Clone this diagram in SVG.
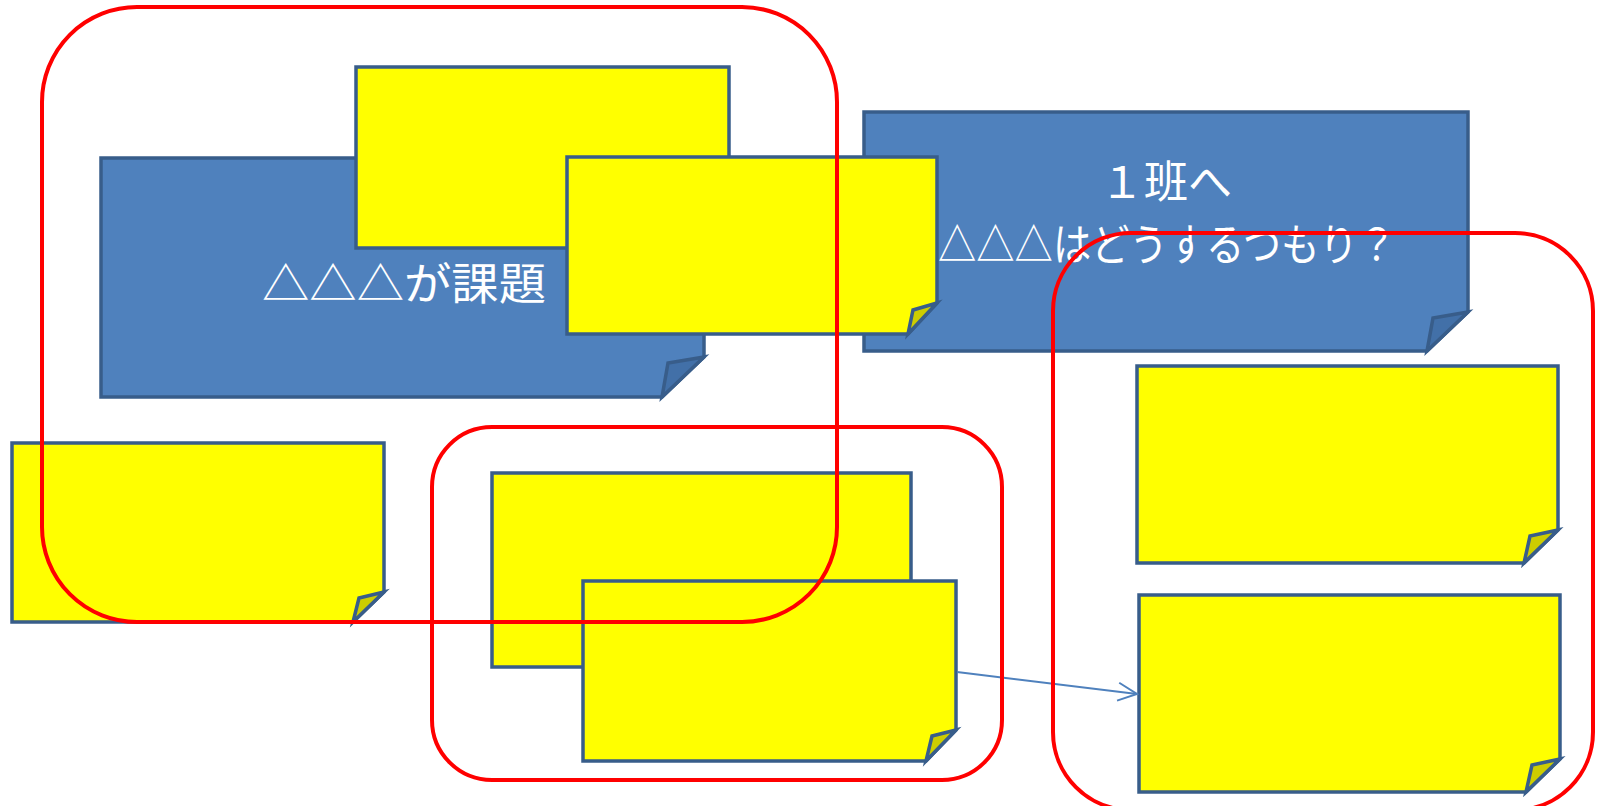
<svg xmlns="http://www.w3.org/2000/svg" width="1604" height="806" viewBox="0 0 1604 806">
  <defs>
    <style>
      .blue { fill: #4f81bd; stroke: #385d8a; stroke-width: 3.5; stroke-linejoin: miter; }
      .blueflap { fill: #4270a8; stroke: #385d8a; stroke-width: 3.5; }
      .yel { fill: #ffff00; stroke: #385d8a; stroke-width: 3.5; }
      .yelflap { fill: #cdcd00; stroke: #385d8a; stroke-width: 3.5; }
      .red { fill: none; stroke: #ff0000; stroke-width: 4; }
      .lbl { fill: #ffffff; font-family: "Noto Sans CJK JP", "Noto Sans", sans-serif; font-size: 44px; }
      .conn { stroke: #4f81bd; stroke-width: 2; fill: none; }
    </style>
    <marker id="arr" markerUnits="userSpaceOnUse" markerWidth="24" markerHeight="24" viewBox="0 0 24 24" refX="22" refY="12" orient="auto">
      <path d="M3 3 L22 12 L3 21" fill="none" stroke="#4f81bd" stroke-width="2"/>
    </marker>
  </defs>
  <rect width="1604" height="806" fill="#ffffff"/>

  <g id="note-b1">
    <path class="blue" d="M101 158 H704 V357 L662 397 H101 Z"/>
    <path class="blueflap" d="M704 357 L668 363 L662 397 Z"/>
    <text class="lbl" x="404" y="300" text-anchor="middle" textLength="284" lengthAdjust="spacingAndGlyphs">△△△が課題</text>
  </g>
  <g id="note-y1">
    <path class="yel" d="M356 67 H729 V218 L699 248 H356 Z"/>
  </g>
  <g id="note-b2">
    <path class="blue" d="M864 112 H1468 V312 L1427 351 H864 Z"/>
    <path class="blueflap" d="M1468 312 L1433 318 L1427 351 Z"/>
    <text class="lbl" x="1166" y="198" text-anchor="middle">１班へ</text>
    <text class="lbl" x="1167" y="261" text-anchor="middle" textLength="458" lengthAdjust="spacingAndGlyphs">△△△はどうするつもり？</text>
  </g>
  <g id="note-y2">
    <path class="yel" d="M567 157 H937 V303 L908 334 H567 Z"/>
    <path class="yelflap" d="M937 303 L913 310 L908 334 Z"/>
  </g>
  <g id="note-y3">
    <path class="yel" d="M12 443 H384 V592 L353 622 H12 Z"/>
    <path class="yelflap" d="M384 592 L359 598 L353 622 Z"/>
  </g>
  <g id="note-y4">
    <path class="yel" d="M492 473 H911 V637 L881 667 H492 Z"/>
  </g>
  <g id="note-y5">
    <path class="yel" d="M583 581 H956 V730 L926 761 H583 Z"/>
    <path class="yelflap" d="M956 730 L932 736 L926 761 Z"/>
  </g>
  <g id="note-y6">
    <path class="yel" d="M1137 366 H1558 V530 L1524 563 H1137 Z"/>
    <path class="yelflap" d="M1558 530 L1530 536 L1524 563 Z"/>
  </g>
  <g id="note-y7">
    <path class="yel" d="M1139 595 H1560 V759 L1526 792 H1139 Z"/>
    <path class="yelflap" d="M1560 759 L1532 765 L1526 792 Z"/>
  </g>

  <g id="connectors">
    <line class="conn" x1="957" y1="672" x2="1137" y2="694" marker-end="url(#arr)"/>
  </g>

  <g id="group-frames">
    <rect id="frame-1" class="red" x="42" y="7" width="795" height="615" rx="95" ry="95"/>
    <rect id="frame-2" class="red" x="432" y="427" width="570" height="353" rx="60" ry="60"/>
    <rect id="frame-3" class="red" x="1053" y="233" width="540" height="577" rx="78" ry="78"/>
  </g>
</svg>
